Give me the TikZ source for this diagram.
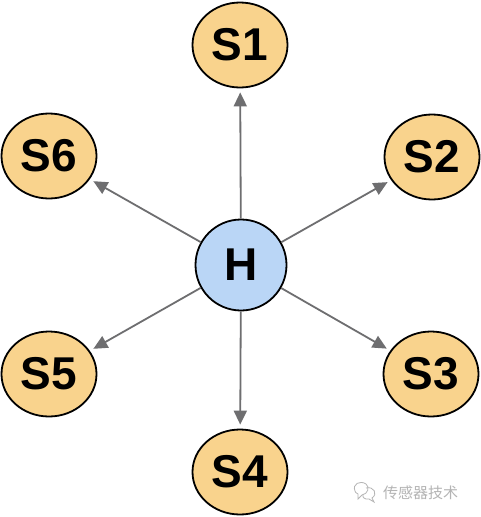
\documentclass[tikz,border=0pt]{standalone}
\usepackage{fontspec}
\setmainfont{Liberation Sans}
\newfontfamily\cjk{Noto Sans CJK SC}
\usetikzlibrary{shapes.geometric,arrows.meta}
\definecolor{satfill}{HTML}{F9D38D}
\definecolor{hubfill}{HTML}{BAD6F6}
\definecolor{arrowgray}{HTML}{6E6E70}
\definecolor{wmgray}{HTML}{B4B4B4}
\begin{document}
\begin{tikzpicture}[x=1pt,y=-1pt,
  sat/.style={ellipse,draw=black,line width=1.8pt,fill=satfill,minimum width=95pt,minimum height=85pt,inner sep=0pt,
    font=\fontsize{46}{46}\selectfont\bfseries},
  hub/.style={circle,draw=black,line width=1.8pt,fill=hubfill,minimum size=91pt,inner sep=0pt,
    font=\fontsize{46}{46}\selectfont\bfseries},
  link/.style={draw=arrowgray,line width=1.8pt,-{Triangle[length=14pt,width=13pt]},shorten >=4pt}]
\useasboundingbox (0,0) rectangle (480,517);
\fill[white] (0,0) rectangle (480,517);
\node[hub] (H) at (241,265) {H};
\node[sat] (S1) at (240,45) {S1};
\node[sat] (S2) at (432,157) {S2};
\node[sat] (S3) at (431,374) {S3};
\node[sat] (S4) at (240,472) {S4};
\node[sat] (S5) at (49,374) {S5};
\node[sat] (S6) at (49,156) {S6};
\foreach \s in {S1,S2,S3,S4,S5,S6} \draw[link] (H) -- (\s);
% watermark
\node[anchor=west,text=wmgray,font=\cjk\fontsize{15}{15}\selectfont,inner sep=0pt] (wm) at (383,493) {传感器技术};
\draw[wmgray,line width=0.8pt] (355,491) .. controls (352,484) and (360,480) .. (366,484) .. controls (370,487) and (368,494) .. (362,495) -- (358,499) -- (358,494) .. controls (356,493) and (355,492) .. (355,491);
\draw[wmgray,line width=0.8pt] (366,488) .. controls (374,486) and (378,494) .. (372,498) -- (374,502) -- (369,499) .. controls (365,500) and (362,497) .. (363,495);
\end{tikzpicture}
\end{document}
